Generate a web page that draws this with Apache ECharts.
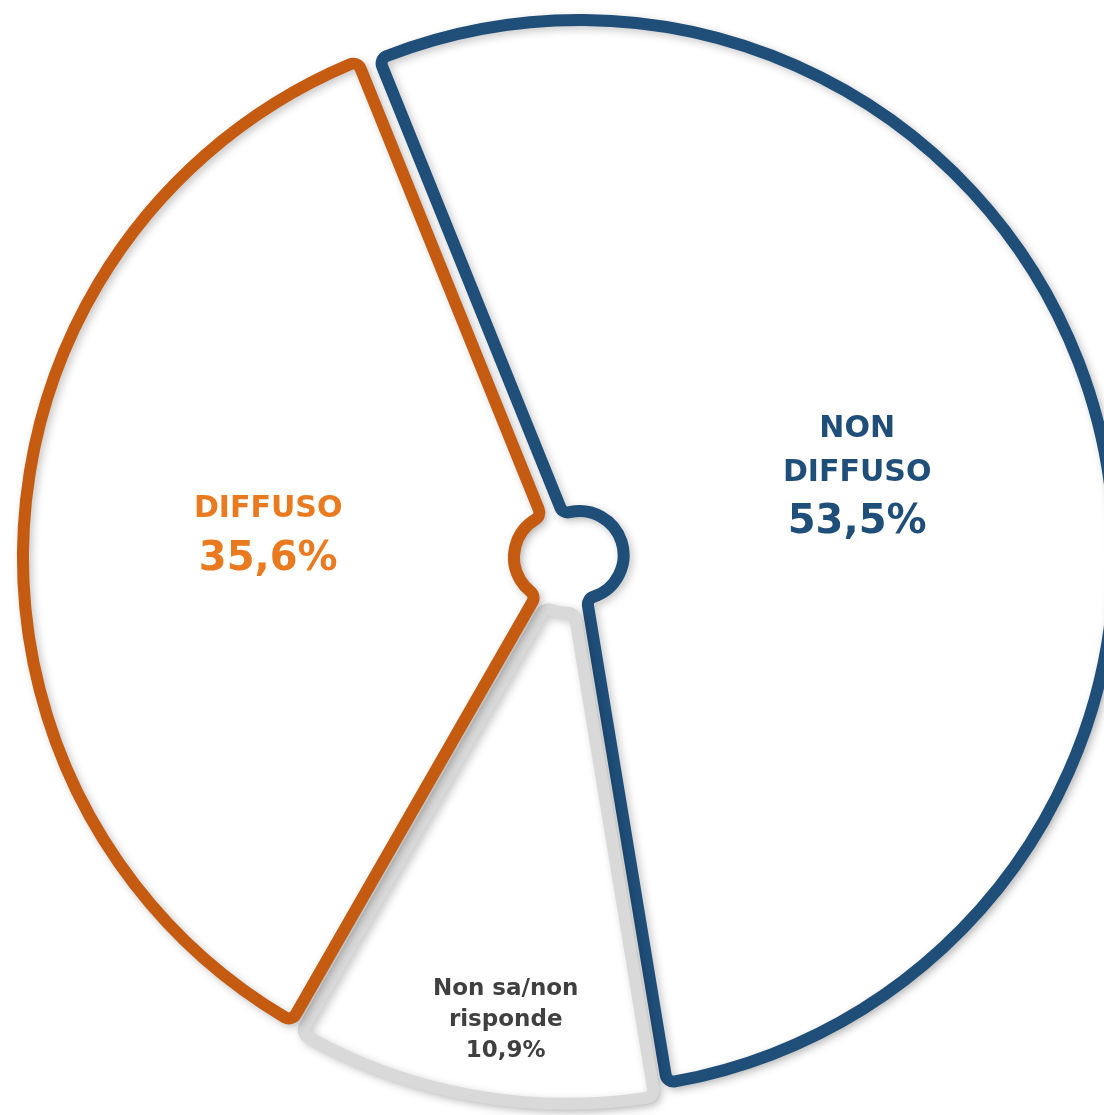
<!DOCTYPE html>
<html>
<head>
<meta charset="utf-8">
<script src="https://cdn.jsdelivr.net/npm/echarts@6/dist/echarts.min.js"></script>
<style>
  html, body { margin: 0; padding: 0; background: #fff; }
  #chart { width: 1104px; height: 1115px; }
</style>
</head>
<body>
<div id="chart"></div>
<script>
// dati
const categories = ['NON\nDIFFUSO', 'Non sa/non\nrisponde', 'DIFFUSO']
const values = [53.5, 10.9, 35.6]
const valueLabels = ['53,5%', '10,9%', '35,6%']
const strokeColors = ['#1F4E79', '#D9D9D9', '#C55A11']
const textColors = ['#1F4E79', '#404040', '#E97A20']

const FONT = '"DejaVu Sans", sans-serif'
const START = 112

const chart = echarts.init(document.getElementById('chart'))

// angolo medio della fetta (per spostare l'etichetta grigia verso l'esterno)
const total = values.reduce((a, b) => a + b, 0)
const midAngle = idx => {
  let before = 0
  for (let i = 0; i < idx; i++) before += values[i]
  const deg = START - (before + values[idx] / 2) / total * 360
  return deg * Math.PI / 180
}

const data = values.map((v, i) => {
  const big = i !== 1
  return {
    name: categories[i],
    value: v,
    selected: true,
    itemStyle: {
      color: '#fff',
      borderColor: strokeColors[i],
      borderWidth: 12,
      borderRadius: 8,
      shadowBlur: 8,
      shadowColor: 'rgba(0,0,0,0.22)',
      shadowOffsetX: 3,
      shadowOffsetY: 3
    },
    label: {
      formatter: `{n|${categories[i]}}\n{v|${valueLabels[i]}}`,
      rich: {
        n: {
          fontFamily: FONT,
          fontWeight: 'bold',
          fontSize: big ? 30 : 23,
          lineHeight: big ? 44 : 31,
          color: textColors[i],
          align: 'center'
        },
        v: {
          fontFamily: FONT,
          fontWeight: 'bold',
          fontSize: big ? 40 : 23,
          lineHeight: big ? 56 : 31,
          color: textColors[i],
          align: 'center'
        }
      }
    }
  }
})

const option = {
  backgroundColor: '#fff',
  animation: false,
  series: [
    {
      type: 'pie',
      center: [569, 558],
      radius: [44, 535],
      startAngle: START,
      clockwise: true,
      selectedMode: 'multiple',
      selectedOffset: 11,
      label: {
        show: true,
        position: 'inside'
      },
      labelLine: { show: false },
      emphasis: { disabled: true },
      labelLayout: params => {
        if (params.dataIndex === 2) return { dx: 2, dy: 0 }
        if (params.dataIndex === 0) return { dx: -4, dy: 3 }
        const a = midAngle(1)
        const extra = 166
        return { dx: Math.cos(a) * extra + 20, dy: -Math.sin(a) * extra }
      },
      data
    }
  ]
}

chart.setOption(option)
</script>
</body>
</html>
